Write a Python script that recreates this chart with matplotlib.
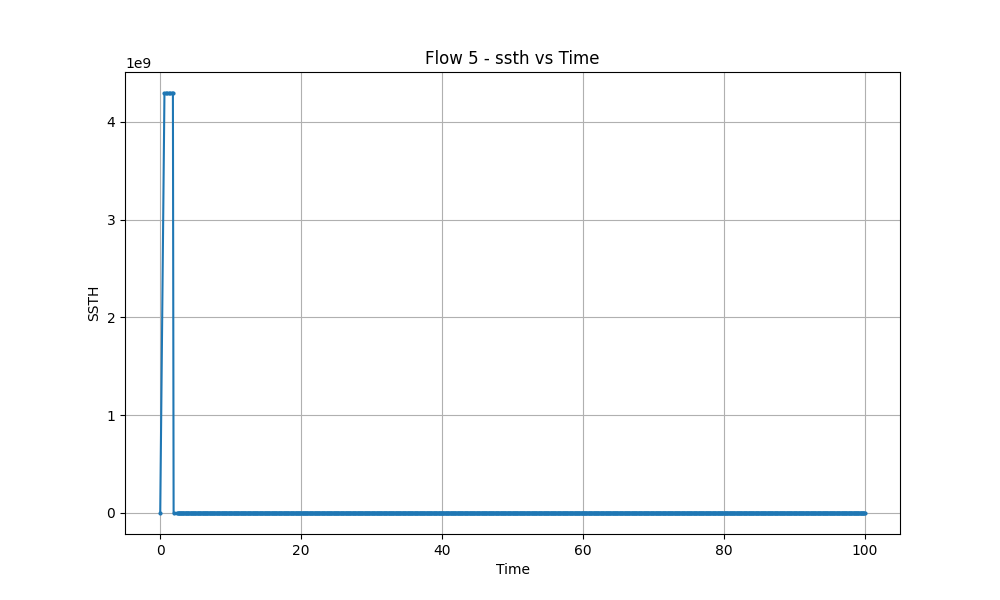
import numpy as np
import matplotlib.pyplot as plt

# early samples (slow start, ssthresh at its initial max)
t_start = [0.0, 0.6, 0.8, 1.0, 1.2, 1.4, 1.6, 1.8, 1.9]
ssth_start = [0, 4294967295, 4294967295, 4294967295, 4294967295,
              4294967295, 4294967295, 4294967295, 0]

# after the first loss ssthresh stays tiny, sampled every 0.1 s
t_rest = np.round(np.arange(2.4, 100.05, 0.1), 2)
ssth_rest = np.full(len(t_rest), 5000)

time = np.concatenate([t_start, t_rest])
ssth = np.concatenate([ssth_start, ssth_rest])

plt.figure(figsize=(10, 6))
plt.plot(time, ssth, marker='o', markersize=2, color='#1f77b4')
plt.xlabel('Time')
plt.ylabel('SSTH')
plt.title('Flow 5 - ssth vs Time')
plt.grid(True)
plt.savefig('out.png', dpi=100)
